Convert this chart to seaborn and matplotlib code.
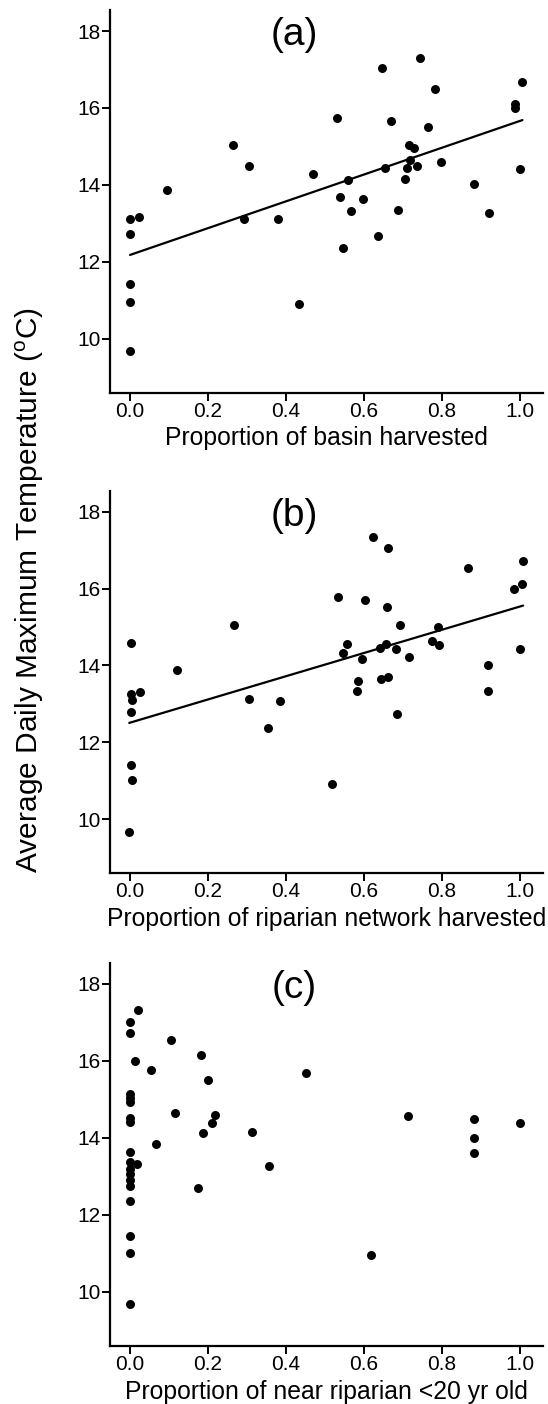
import numpy as np
import pandas as pd
import matplotlib
matplotlib.use("Agg")
import matplotlib.pyplot as plt
import seaborn as sns

# ---------------- data ----------------
basin_x = [0.000, 0.022, 0.000, 0.000, 0.000, 0.000, 0.095, 0.265, 0.305, 0.291,
           0.380, 0.433, 0.468, 0.531, 0.539, 0.559, 0.566, 0.547, 0.597, 0.645,
           0.635, 0.654, 0.668, 0.686, 0.704, 0.710, 0.716, 0.728, 0.719, 0.736,
           0.744, 0.764, 0.782, 0.797, 0.883, 0.921, 0.987, 0.987, 1.001, 1.006]
basin_y = [13.10, 13.16, 12.73, 11.42, 10.96, 9.67, 13.87, 15.04, 14.49, 13.10,
           13.10, 10.91, 14.29, 15.74, 13.69, 14.13, 13.31, 12.36, 13.64, 17.04,
           12.66, 14.43, 15.67, 13.35, 14.16, 14.43, 15.04, 14.97, 14.65, 14.50,
           17.30, 15.51, 16.50, 14.60, 14.03, 13.26, 16.11, 16.00, 14.41, 16.67]

riparian_x = [0.003, 0.003, 0.006, 0.026, 0.003, 0.003, 0.004, -0.002, 0.121, 0.266,
              0.306, 0.354, 0.385, 0.519, 0.533, 0.556, 0.547, 0.596, 0.585, 0.581,
              0.603, 0.624, 0.661, 0.658, 0.641, 0.656, 0.643, 0.661, 0.682, 0.692,
              0.714, 0.685, 0.789, 0.774, 0.793, 0.867, 0.919, 0.919, 0.985, 1.004,
              1.008, 1.000]
riparian_y = [14.58, 13.26, 13.11, 13.31, 12.80, 11.42, 11.02, 9.66, 13.89, 15.06,
              13.13, 12.38, 13.07, 10.92, 15.77, 14.56, 14.32, 14.17, 13.60, 13.34,
              15.70, 17.34, 17.07, 15.51, 14.46, 14.56, 13.66, 13.71, 14.43, 15.05,
              14.22, 12.74, 14.99, 14.65, 14.54, 16.54, 14.00, 13.34, 15.99, 16.12,
              16.71, 14.43]

near_x = [0.000, 0.000, 0.000, 0.000, 0.000, 0.000, 0.000, 0.000, 0.000, 0.000,
          0.000, 0.000, 0.000, 0.000, 0.000, 0.000, 0.000, 0.018, 0.013, 0.020,
          0.053, 0.067, 0.105, 0.114, 0.182, 0.200, 0.187, 0.211, 0.218, 0.173,
          0.312, 0.357, 0.452, 0.712, 0.619, 0.881, 0.881, 0.881, 1.001]
near_y = [9.68, 11.00, 11.46, 12.37, 12.76, 12.90, 13.05, 13.20, 13.36, 13.64,
          14.40, 14.52, 14.92, 15.03, 15.15, 16.72, 17.01, 13.32, 16.00, 17.32,
          15.76, 13.85, 16.53, 14.65, 16.14, 15.51, 14.13, 14.38, 14.60, 12.69,
          14.16, 13.28, 15.68, 14.57, 10.95, 14.49, 14.00, 13.61, 14.39]

panel_labels = ["(a)", "(b)", "(c)"]
x_labels = ["Proportion of basin harvested",
            "Proportion of riparian network harvested",
            "Proportion of near riparian <20 yr old"]
show_fit = [True, True, False]
y_ticks = [10, 12, 14, 16, 18]
x_ticks = [0.0, 0.2, 0.4, 0.6, 0.8, 1.0]
y_label = r"Average Daily Maximum Temperature ($^{\mathrm{o}}$C)"

# ---------------- style ----------------
sns.set_style("ticks")
plt.rcParams["font.family"] = ["Liberation Sans", "DejaVu Sans"]
plt.rcParams["mathtext.fontset"] = "custom"
plt.rcParams["mathtext.rm"] = "Liberation Sans"
plt.rcParams["mathtext.it"] = "Liberation Sans:italic"
plt.rcParams["text.color"] = "black"
plt.rcParams["axes.labelcolor"] = "black"

fig = plt.figure(figsize=(5.48, 14.04), dpi=100)
rects = [
    [0.201, 0.7203, 0.790, 0.2726],
    [0.201, 0.3780, 0.790, 0.2725],
    [0.201, 0.0413, 0.790, 0.2730],
]

datasets = [(basin_x, basin_y), (riparian_x, riparian_y), (near_x, near_y)]

for rect, (xs, ys), plab, xlab, fit in zip(rects, datasets, panel_labels, x_labels, show_fit):
    ax = fig.add_axes(rect)
    df = pd.DataFrame({"x": xs, "y": ys})
    sns.scatterplot(data=df, x="x", y="y", ax=ax, color="black", s=42,
                    edgecolor="black", linewidth=0, zorder=3)
    if fit:
        sns.regplot(data=df, x="x", y="y", ax=ax, scatter=False, ci=None,
                    color="black", line_kws={"linewidth": 1.6})
    ax.set_xlim(-0.051, 1.059)
    ax.set_ylim(8.59, 18.55)
    ax.set_xticks(x_ticks)
    ax.set_xticklabels([f"{t:.1f}" for t in x_ticks])
    ax.set_yticks(y_ticks)
    ax.set_yticklabels([str(t) for t in y_ticks])
    ax.set_xlabel(xlab, fontsize=17.8, labelpad=4)
    ax.set_ylabel("")
    sns.despine(ax=ax)
    for side in ["left", "bottom"]:
        ax.spines[side].set_linewidth(1.6)
        ax.spines[side].set_color("black")
    ax.tick_params(axis="both", labelsize=15, width=1.4, length=5.5,
                   color="black", labelcolor="black", direction="out")
    ax.tick_params(axis="x", pad=1)
    ax.tick_params(axis="y", pad=1.5)
    ax.text(0.425, 0.935, plab, transform=ax.transAxes, fontsize=28,
            ha="center", va="center", color="black")

fig.text(0.055, 0.58, y_label, rotation=90, fontsize=21.5, ha="center",
         va="center", color="black")

fig.savefig("out.png", dpi=100)
